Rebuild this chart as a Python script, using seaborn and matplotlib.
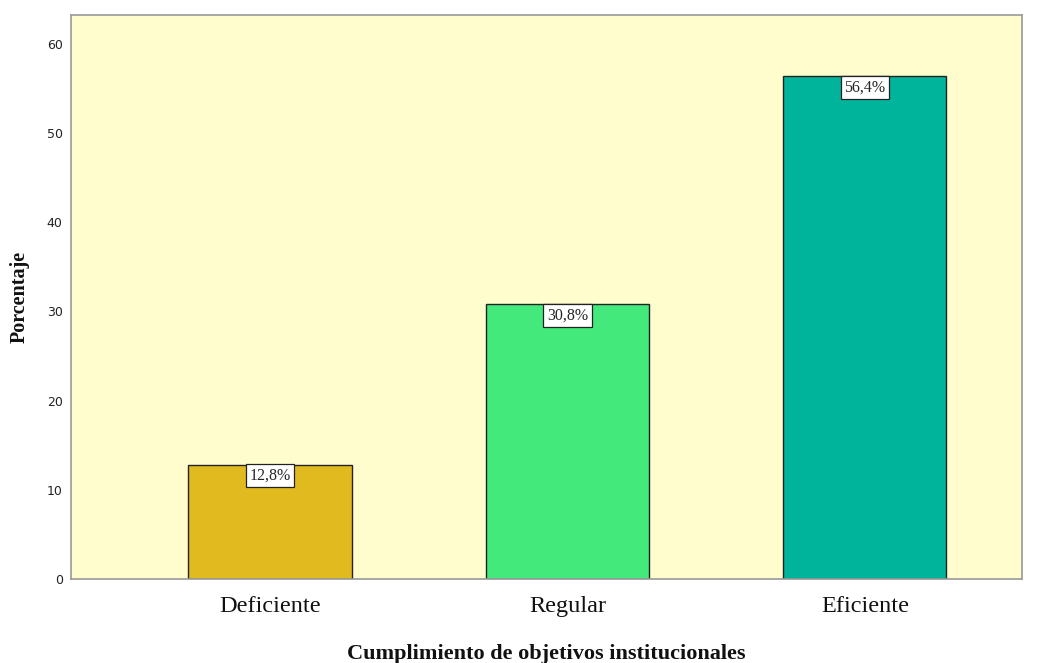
import matplotlib
matplotlib.use("Agg")
import matplotlib.pyplot as plt
import seaborn as sns
import pandas as pd

categories = ["Deficiente", "Regular", "Eficiente"]
percentages = [12.8, 30.8, 56.4]
value_labels = ["12,8%", "30,8%", "56,4%"]
colors = ["#E0BA1E", "#44E97C", "#00B49C"]
yticks = [0, 10, 20, 30, 40, 50, 60]

sns.set_theme(style="white")
plt.rcParams['font.family'] = ['DejaVu Sans']

df = pd.DataFrame({"cat": categories, "pct": percentages})

fig = plt.figure(figsize=(10.5, 6.63), dpi=100)
ax = fig.add_axes([71/1050, 1 - 579/663, (1022-71)/1050, (579-15)/663])
ax.set_facecolor("#FFFDCD")

sns.barplot(data=df, x="cat", y="pct", hue="cat", palette=colors, legend=False,
            width=0.548, edgecolor="#222222", linewidth=1.0, saturation=1, ax=ax)

for i, (v, lab) in enumerate(zip(percentages, value_labels)):
    ax.text(i, v - 0.35, lab, ha="center", va="top", fontsize=11.5,
            family="Liberation Serif",
            bbox=dict(boxstyle="square,pad=0.22", facecolor="white", edgecolor="#222222", linewidth=0.9))

ax.set_xlim(-0.669, 2.528)
ax.set_ylim(0, 63.25)
ax.set_yticks(yticks)
ax.set_yticklabels([str(t) for t in yticks], fontsize=9, color="#222222")
ax.tick_params(axis="y", length=0, pad=6)
ax.tick_params(axis="x", length=0, pad=12)
for lbl in ax.get_xticklabels():
    lbl.set_family("Liberation Serif")
    lbl.set_fontsize(17.5)
    lbl.set_color("#111111")

ax.set_xlabel("Cumplimiento de objetivos institucionales", family="Liberation Serif",
              fontsize=16, fontweight="bold", labelpad=20, color="#111111")
ax.set_ylabel("Porcentaje", family="Liberation Serif", fontsize=14.5, fontweight="bold",
              labelpad=12, color="#111111")

for s in ax.spines.values():
    s.set_color("#999999")
    s.set_linewidth(1.2)
    s.set_visible(True)

fig.savefig("out.png", dpi=100)
